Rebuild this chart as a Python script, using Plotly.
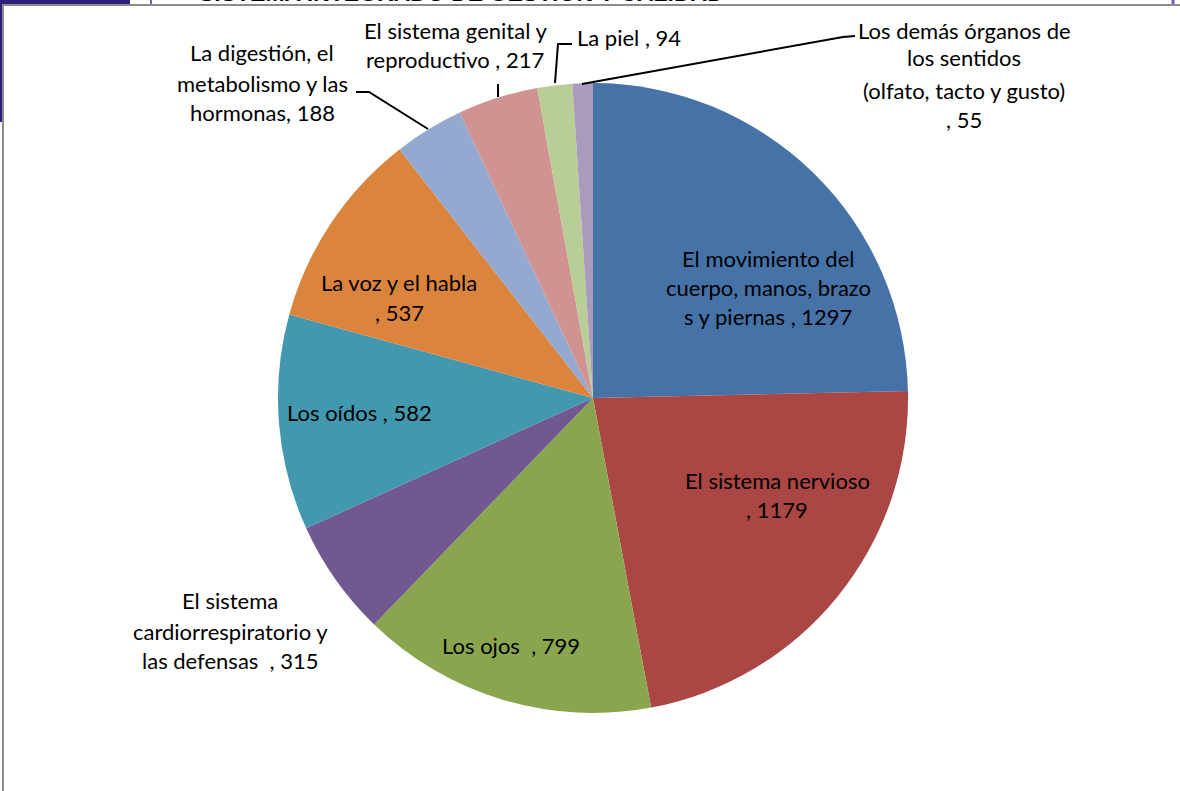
import plotly.graph_objects as go

W, H = 1180, 791

categories = [
    "El movimiento del cuerpo, manos, brazos y piernas",
    "El sistema nervioso",
    "Los ojos",
    "El sistema cardiorrespiratorio y las defensas",
    "Los oídos",
    "La voz y el habla",
    "La digestión, el metabolismo y las hormonas",
    "El sistema genital y reproductivo",
    "La piel",
    "Los demás órganos de los sentidos (olfato, tacto y gusto)",
]
values = [1297, 1179, 799, 315, 582, 537, 188, 217, 94, 55]
colors = ["#4572A7", "#AA4643", "#89A54E", "#71588F", "#4198AF",
          "#DB843D", "#93A9CF", "#D19392", "#B9CD96", "#A99BBD"]

# label text lines (as they wrap in the original)
label_lines = [
    ["El movimiento del", "cuerpo, manos, brazo", "s y piernas , 1297"],
    ["El sistema nervioso", ", 1179"],
    ["Los ojos  , 799"],
    ["El sistema", "cardiorrespiratorio y", "las defensas  , 315"],
    ["Los oídos , 582"],
    ["La voz y el habla", ", 537"],
    ["La digestión, el", "metabolismo y las", "hormonas, 188"],
    ["El sistema genital y", "reproductivo , 217"],
    ["La piel , 94"],
    ["Los demás órganos de", "los sentidos", "(olfato, tacto y gusto)", ", 55"],
]


def px(x):
    return x / W


def py(y):
    return 1 - y / H


# label placement (pixel centre x, pixel y of each line)
label_pos = [
    (768, [258, 287, 316]),
    (777, [480, 509]),
    (511, [645]),
    (230, [600, 631, 660]),
    (359, [412]),
    (399, [283, 312]),
    (262, [52, 84, 113]),
    (455, [31, 60]),
    (629, [38]),
    (964, [30, 58, 90, 119]),
]

fig = go.Figure()
fig.add_trace(go.Pie(
    labels=categories,
    values=values,
    marker=dict(colors=colors, line=dict(width=0)),
    sort=False,
    direction="clockwise",
    rotation=0,
    textinfo="none",
    hoverinfo="label+value",
    domain=dict(x=[px(278), px(908)], y=[py(713), py(83)]),
    showlegend=False,
))

annotations = []
for lines, (cx, ys) in zip(label_lines, label_pos):
    for line, y in zip(lines, ys):
        annotations.append(dict(
            x=px(cx), y=py(y), xref="paper", yref="paper",
            text=line, showarrow=False, xanchor="center", yanchor="middle",
            font=dict(family="Lato", size=22, color="#000000"),
        ))

# partially cut heading at the very top
annotations.append(dict(
    x=px(461), y=py(8), xref="paper", yref="paper",
    text="<b>SISTEMA INTEGRADO DE GESTION Y CALIDAD</b>", showarrow=False,
    xanchor="center", yanchor="bottom",
    font=dict(family="Liberation Sans", size=23, color="#000000"),
))

shapes = [
    # dark banner top-left and purple accents outside the chart frame
    dict(type="rect", xref="paper", yref="paper", x0=px(0), x1=px(130), y0=py(5), y1=py(0),
         fillcolor="#2E1F7A", line=dict(width=0), layer="below"),
    dict(type="rect", xref="paper", yref="paper", x0=px(0), x1=px(2), y0=py(122), y1=py(0),
         fillcolor="#2E1F7A", line=dict(width=0), layer="below"),
    dict(type="line", xref="paper", yref="paper", x0=px(151), x1=px(151), y0=py(5), y1=py(0),
         line=dict(color="#7A5FB0", width=2)),
    dict(type="line", xref="paper", yref="paper", x0=px(1173), x1=px(1173), y0=py(5), y1=py(0),
         line=dict(color="#7A5FB0", width=3)),
    # chart frame
    dict(type="line", xref="paper", yref="paper", x0=px(2), x1=px(1180), y0=py(5), y1=py(5),
         line=dict(color="#8C8C8C", width=2)),
    dict(type="line", xref="paper", yref="paper", x0=px(3), x1=px(3), y0=py(5), y1=py(791),
         line=dict(color="#8C8C8C", width=2)),
    # leader lines
    dict(type="path", xref="paper", yref="paper",
         path=f"M {px(356)} {py(92)} L {px(369)} {py(92)} L {px(428)} {py(129)}",
         line=dict(color="#000000", width=2)),
    dict(type="line", xref="paper", yref="paper", x0=px(498), x1=px(498), y0=py(84), y1=py(97),
         line=dict(color="#000000", width=2)),
    dict(type="path", xref="paper", yref="paper",
         path=f"M {px(572)} {py(44)} L {px(558)} {py(44)} L {px(555)} {py(83)}",
         line=dict(color="#000000", width=2)),
    dict(type="path", xref="paper", yref="paper",
         path=f"M {px(582)} {py(84)} L {px(843)} {py(37)} L {px(855)} {py(36)}",
         line=dict(color="#000000", width=2)),
]

fig.update_layout(
    width=W, height=H,
    margin=dict(l=0, r=0, t=0, b=0),
    paper_bgcolor="#FFFFFF",
    plot_bgcolor="#FFFFFF",
    annotations=annotations,
    shapes=shapes,
)

fig.write_html("out.html",
               config={"displayModeBar": False},
               post_script="document.body.style.margin='0';document.body.style.overflow='hidden';")
